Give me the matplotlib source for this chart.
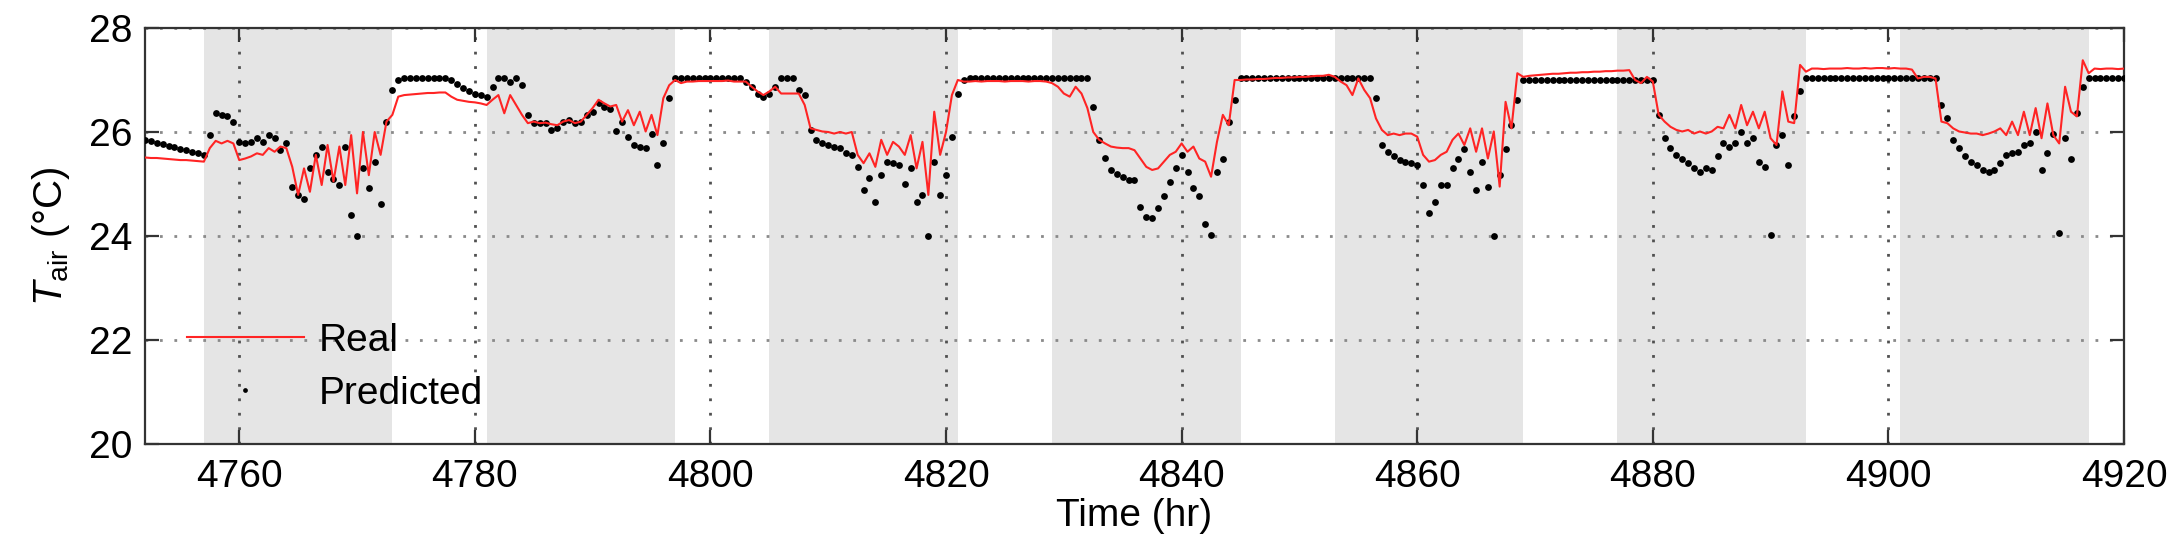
"""
Tair real vs predicted, 4752-4920 hr
"""
import numpy as np
import matplotlib
matplotlib.use('Agg')
import matplotlib.pyplot as plt

plt.rcParams['font.family'] = ['Liberation Sans', 'DejaVu Sans']
plt.rcParams['mathtext.fontset'] = 'custom'
plt.rcParams['mathtext.rm'] = 'Liberation Sans'
plt.rcParams['mathtext.it'] = 'Liberation Sans:italic'

# half-hour samples, 4752.0 ... 4920.0
t_start, t_step = 4752, 0.5

real = [
    # 4752 - 4775.5
    25.51, 25.50, 25.50, 25.49, 25.48, 25.47, 25.46, 25.46, 25.45, 25.44, 25.43, 25.69,
    25.83, 25.78, 25.83, 25.78, 25.46, 25.49, 25.53, 25.59, 25.56, 25.69, 25.62, 25.72,
    25.69, 25.33, 24.79, 25.30, 24.85, 25.56, 24.98, 25.75, 25.05, 25.72, 24.98, 25.94,
    24.82, 26.00, 25.17, 26.00, 25.56, 26.20, 26.33, 26.68, 26.71, 26.72, 26.73, 26.74,
    # 4776 - 4799.5
    26.75, 26.75, 26.76, 26.76, 26.68, 26.62, 26.60, 26.58, 26.57, 26.55, 26.52, 26.62,
    26.71, 26.36, 26.71, 26.52, 26.33, 26.17, 26.20, 26.17, 26.18, 26.15, 26.13, 26.20,
    26.23, 26.17, 26.20, 26.33, 26.46, 26.62, 26.55, 26.49, 26.52, 26.20, 26.42, 26.13,
    26.39, 26.01, 26.33, 25.94, 26.65, 26.90, 27.00, 26.94, 26.97, 26.97, 26.98, 26.98,
    # 4800 - 4823.5
    26.98, 26.98, 26.98, 26.99, 26.97, 26.97, 26.97, 26.87, 26.78, 26.71, 26.78, 26.87,
    26.74, 26.74, 26.74, 26.74, 26.52, 26.07, 26.04, 26.01, 26.00, 25.97, 26.00, 25.97,
    26.00, 25.56, 25.40, 25.59, 25.33, 25.85, 25.56, 25.81, 25.72, 25.56, 25.94, 25.30,
    25.81, 24.79, 26.39, 25.56, 26.00, 26.71, 27.00, 26.97, 26.97, 26.98, 26.97, 26.98,
    # 4824 - 4847.5
    26.98, 26.98, 26.97, 26.98, 26.98, 26.98, 26.97, 26.98, 26.98, 26.97, 26.94, 26.87,
    26.74, 26.68, 26.87, 26.74, 26.46, 26.00, 25.85, 25.78, 25.72, 25.70, 25.69, 25.69,
    25.65, 25.49, 25.33, 25.27, 25.30, 25.43, 25.56, 25.62, 25.78, 25.62, 25.72, 25.49,
    25.43, 25.14, 25.81, 26.33, 26.13, 27.00, 27.00, 27.01, 27.01, 27.02, 27.02, 27.03,
    # 4848 - 4871.5
    27.04, 27.04, 27.05, 27.05, 27.06, 27.06, 27.07, 27.08, 27.08, 27.10, 27.06, 26.97,
    26.90, 26.71, 27.03, 26.81, 26.65, 26.26, 26.04, 25.94, 25.97, 25.94, 25.97, 25.97,
    25.91, 25.56, 25.43, 25.46, 25.56, 25.62, 25.85, 25.97, 25.75, 26.07, 25.62, 26.07,
    25.49, 26.01, 24.95, 26.58, 26.07, 27.13, 27.06, 27.08, 27.09, 27.10, 27.11, 27.12,
    # 4872 - 4895.5
    27.12, 27.13, 27.14, 27.14, 27.15, 27.15, 27.16, 27.16, 27.17, 27.17, 27.18, 27.18,
    27.19, 27.00, 26.94, 27.06, 26.97, 26.33, 26.20, 26.10, 26.04, 26.01, 26.04, 25.97,
    26.01, 25.97, 26.01, 26.10, 26.07, 26.33, 26.07, 26.52, 26.13, 26.39, 26.07, 26.39,
    25.88, 25.75, 26.78, 26.20, 26.17, 27.29, 27.16, 27.22, 27.22, 27.21, 27.22, 27.22,
    # 4896 - 4920
    27.22, 27.23, 27.22, 27.22, 27.23, 27.22, 27.23, 27.23, 27.22, 27.23, 27.22, 27.22,
    27.20, 27.03, 27.06, 27.06, 27.03, 26.20, 26.17, 26.07, 26.01, 25.99, 25.97, 25.97,
    25.94, 25.97, 26.01, 26.07, 25.94, 26.20, 25.94, 26.39, 25.94, 26.46, 25.88, 26.55,
    25.94, 25.78, 26.87, 26.39, 26.30, 27.38, 27.13, 27.22, 27.21, 27.22, 27.22, 27.21,
    27.22,
]

predicted = [
    # 4752 - 4775.5
    25.85, 25.82, 25.79, 25.76, 25.73, 25.71, 25.68, 25.65, 25.62, 25.59, 25.56, 25.95,
    26.36, 26.33, 26.30, 26.20, 25.81, 25.78, 25.81, 25.88, 25.80, 25.94, 25.88, 25.65,
    25.78, 24.95, 24.79, 24.72, 25.30, 25.56, 25.72, 25.24, 25.10, 24.98, 25.72, 24.40,
    24.00, 25.30, 24.92, 25.43, 24.62, 26.20, 26.81, 27.00, 27.03, 27.03, 27.03, 27.03,
    # 4776 - 4799.5
    27.03, 27.03, 27.03, 27.03, 27.00, 26.93, 26.84, 26.79, 26.74, 26.71, 26.68, 26.87,
    27.03, 27.03, 26.97, 27.03, 26.90, 26.33, 26.17, 26.17, 26.17, 26.04, 26.07, 26.20,
    26.23, 26.17, 26.20, 26.33, 26.39, 26.55, 26.49, 26.45, 26.01, 26.20, 25.91, 25.75,
    25.72, 25.69, 25.97, 25.37, 25.78, 26.65, 27.03, 27.03, 27.03, 27.03, 27.03, 27.03,
    # 4800 - 4823.5
    27.03, 27.03, 27.03, 27.03, 27.03, 27.03, 26.97, 26.87, 26.74, 26.68, 26.74, 26.87,
    27.03, 27.03, 27.03, 26.81, 26.71, 26.04, 25.85, 25.78, 25.75, 25.72, 25.69, 25.59,
    25.56, 25.33, 24.88, 25.11, 24.66, 25.17, 25.43, 25.40, 25.37, 25.00, 25.30, 24.66,
    24.79, 24.00, 25.43, 24.79, 25.17, 25.91, 26.74, 27.00, 27.03, 27.03, 27.03, 27.03,
    # 4824 - 4847.5
    27.03, 27.03, 27.03, 27.03, 27.03, 27.03, 27.03, 27.03, 27.03, 27.03, 27.03, 27.03,
    27.03, 27.03, 27.03, 27.03, 27.03, 26.49, 25.85, 25.50, 25.27, 25.20, 25.14, 25.08,
    25.08, 24.56, 24.37, 24.34, 24.53, 24.76, 25.04, 25.30, 25.56, 25.24, 24.92, 24.76,
    24.24, 24.02, 25.24, 25.49, 26.20, 26.62, 27.03, 27.03, 27.03, 27.03, 27.03, 27.03,
    # 4848 - 4871.5
    27.03, 27.03, 27.03, 27.03, 27.03, 27.03, 27.03, 27.03, 27.03, 27.03, 27.03, 27.03,
    27.03, 27.03, 27.03, 27.03, 27.03, 26.65, 25.75, 25.62, 25.53, 25.46, 25.43, 25.40,
    25.37, 24.98, 24.44, 24.66, 24.98, 24.98, 25.30, 25.49, 25.68, 25.24, 24.88, 25.43,
    24.95, 24.00, 25.17, 25.68, 26.13, 26.62, 27.00, 27.00, 27.00, 27.00, 27.00, 27.00,
    # 4872 - 4895.5
    27.00, 27.00, 27.00, 27.00, 27.00, 27.00, 27.00, 27.00, 27.00, 27.00, 27.00, 27.00,
    27.00, 27.00, 27.00, 27.00, 27.00, 26.33, 25.88, 25.69, 25.56, 25.49, 25.40, 25.30,
    25.24, 25.30, 25.27, 25.53, 25.78, 25.72, 25.78, 26.00, 25.78, 25.88, 25.43, 25.33,
    24.02, 25.75, 25.94, 25.37, 26.30, 26.78, 27.03, 27.03, 27.03, 27.03, 27.03, 27.03,
    # 4896 - 4920
    27.03, 27.03, 27.03, 27.03, 27.03, 27.03, 27.03, 27.03, 27.03, 27.03, 27.03, 27.03,
    27.03, 27.03, 27.03, 27.03, 27.03, 26.52, 26.26, 25.85, 25.69, 25.53, 25.43, 25.37,
    25.27, 25.24, 25.27, 25.40, 25.56, 25.59, 25.62, 25.75, 25.78, 26.00, 25.27, 25.59,
    25.97, 24.05, 25.88, 25.49, 26.36, 26.87, 27.03, 27.03, 27.03, 27.03, 27.03, 27.03,
    27.03,
]

# grey bands (hr)
shade_start = [4757, 4781, 4805, 4829, 4853, 4877, 4901]
shade_end = [4773, 4797, 4821, 4845, 4869, 4893, 4917]

x_ticks = [4760, 4780, 4800, 4820, 4840, 4860, 4880, 4900, 4920]
y_ticks = [20, 22, 24, 26, 28]

t = t_start + t_step * np.arange(len(real))

W, H = 2174, 554
fig = plt.figure(figsize=(W / 100, H / 100), dpi=100)
ax = fig.add_axes([145 / W, 1 - 444 / H, (2124 - 145) / W, (444 - 28) / H])

for s, e in zip(shade_start, shade_end):
    ax.axvspan(s, e, color='#e5e5e5', lw=0, zorder=0)

ax.plot(t, predicted, linestyle='none', marker='o', ms=4.9, mew=0,
        color='black', label='Predicted', zorder=3)
ax.plot(t, real, color='#ff2424', lw=1.5, label='Real', zorder=4)

ax.set_xlim(4752, 4920)
ax.set_ylim(20, 28)
ax.set_xticks(x_ticks)
ax.set_yticks(y_ticks)
ax.xaxis.grid(True, linestyle=(0, (1, 4.2)), color='#505050', lw=2.0)
ax.yaxis.grid(True, linestyle=(0, (1, 4.2)), color='#8a8a8a', lw=2.0)
for gl in ax.get_xgridlines() + ax.get_ygridlines():
    gl.set_zorder(1)

ax.tick_params(direction='in', top=True, right=True, length=10, width=1.6,
               color='#333333', labelsize=28, pad=11)
ax.tick_params(axis='y', pad=9)
for sp in ax.spines.values():
    sp.set_color('#333333')
    sp.set_linewidth(1.6)

ax.set_xlabel('Time (hr)', fontsize=28, labelpad=2)
ax.set_ylabel(r'$\mathit{T}_{\mathrm{air}}$ (°C)', fontsize=29, labelpad=12)

h, l = ax.get_legend_handles_labels()
ax.legend([h[1], h[0]], [l[1], l[0]], loc='upper left', frameon=False,
          bbox_to_anchor=((187 - 145) / 1979, 0.292), borderpad=0, borderaxespad=0,
          handlelength=3.0, handletextpad=0.4, labelspacing=0.45, numpoints=1,
          markerscale=0.7, fontsize=28)

fig.savefig('out.png', dpi=100)
